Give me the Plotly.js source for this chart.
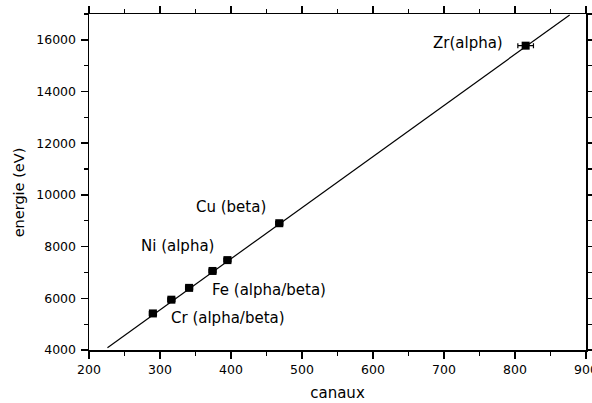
<!DOCTYPE html>
<html>
<head>
<meta charset="utf-8">
<script src="https://cdn.plot.ly/plotly-3.0.1.min.js"></script>
<style>html,body{margin:0;padding:0;background:#fff;overflow:hidden;}#chart{width:592px;height:403px;}</style>
</head>
<body>
<div id="chart"></div>
<script>
// Measured peaks
var canaux = [290, 316, 341, 374, 395, 468, 815];
var energie = [5415, 5947, 6404, 7058, 7478, 8905, 15775];
var erreurCanaux = [5, 5, 5, 5, 5, 5, 11];

// Linear calibration fit (end points)
var fitCanaux = [226, 877];
var fitEnergie = [4089, 16963];

// Labels
var labelTexts = ["Cr (alpha/beta)", "Fe (alpha/beta)", "Ni (alpha)", "Cu (beta)", "Zr(alpha)"];
var labelX = [396, 453, 325, 400, 734];
var labelY = [5223, 6315, 8012, 9517, 15883];

var xTicks = [200, 300, 400, 500, 600, 700, 800, 900];
var yTicks = [4000, 6000, 8000, 10000, 12000, 14000, 16000];

var FONT = "DejaVu Sans, Liberation Sans, Arial, sans-serif";

var traces = [
  {
    x: fitCanaux, y: fitEnergie, mode: "lines", type: "scatter",
    line: {color: "#000", width: 1.2}, hoverinfo: "skip"
  },
  {
    x: canaux, y: energie, mode: "markers", type: "scatter",
    marker: {symbol: "square", color: "#000", size: 8},
    error_x: {type: "data", array: erreurCanaux, visible: true, color: "#000", thickness: 1.2, width: 2.5}
  }
];

var annotations = labelTexts.map(function (t, i) {
  return {x: labelX[i], y: labelY[i], xref: "x", yref: "y", text: t, showarrow: false,
          font: {family: FONT, size: 15, color: "#000"}, xanchor: "center", yanchor: "middle"};
});
var L = 89.3, R = 6.3, T = 13.5, B = 53;
var W = 592 - L - R, H = 403 - T - B;
annotations.push({
  x: (19 - L) / W, y: (403 - B - 192.5) / H, xref: "paper", yref: "paper",
  text: "energie (eV)", showarrow: false, textangle: -90,
  font: {family: FONT, size: 14.5, color: "#000"}, xanchor: "center", yanchor: "middle"
});

var axisCommon = {
  showgrid: false, zeroline: false, showline: true, linecolor: "#000", linewidth: 1.5,
  mirror: "ticks", ticks: "outside", ticklen: 7, tickwidth: 1.5, tickcolor: "#000",
  tickfont: {family: FONT, size: 12.5, color: "#000"},
  exponentformat: "none", separatethousands: false, tickformat: "d",
  ticklabeloverflow: "allow"
};

var layout = {
  width: 592, height: 403,
  margin: {l: L, r: R, t: T, b: B},
  paper_bgcolor: "#fff", plot_bgcolor: "#fff",
  showlegend: false,
  xaxis: Object.assign({}, axisCommon, {
    range: [200, 900], tickvals: xTicks, ticktext: xTicks.map(String),
    minor: {dtick: 50, tick0: 0, ticks: "outside", ticklen: 4, tickwidth: 1.2, tickcolor: "#000", showgrid: false},
    title: {text: "canaux", font: {family: FONT, size: 15, color: "#000"}, standoff: 12}
  }),
  yaxis: Object.assign({}, axisCommon, {
    range: [4000, 17000], tickvals: yTicks, ticktext: yTicks.map(String),
    minor: {dtick: 1000, tick0: 0, ticks: "outside", ticklen: 4, tickwidth: 1.2, tickcolor: "#000", showgrid: false},
    ticklabelstandoff: 2
  }),
  annotations: annotations
};

Plotly.newPlot("chart", traces, layout, {displayModeBar: false, staticPlot: true});
</script>
</body>
</html>
